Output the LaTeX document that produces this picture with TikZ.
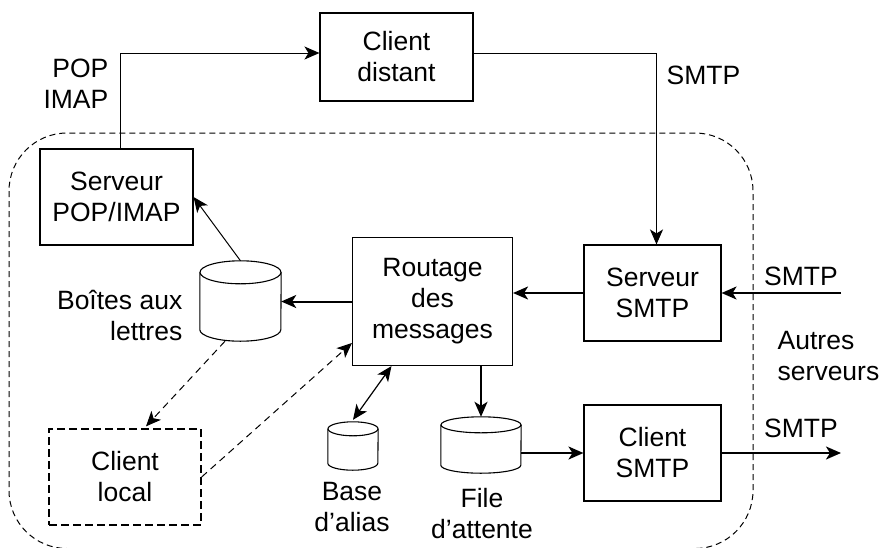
\documentclass[tikz,border=0pt]{standalone}
\usepackage{fontspec}
\setmainfont{Liberation Sans}
\usetikzlibrary{arrows.meta}

% cylinder outline drawn over a plain (invisible) node: #1 node, #2 x radius, #3 y radius
\newcommand\drawcyl[3]{%
  \draw[cylline] ([yshift=-#3pt]#1.north west) -- ([yshift=#3pt]#1.south west)
    arc[start angle=180, end angle=360, x radius=#2pt, y radius=#3pt]
    -- ([yshift=-#3pt]#1.north east);
  \draw[cylline] ([yshift=-#3pt]#1.north) ellipse[x radius=#2pt, y radius=#3pt];
}

\begin{document}
\begin{tikzpicture}[x=1pt, y=-1pt,
  every node/.style={font=\fontsize{26.5}{31}\selectfont, align=center, inner sep=0pt},
  box/.style={draw, line width=1.1pt},
  dbox/.style={draw, line width=1.3pt, dash pattern=on 8pt off 4pt},
  cylline/.style={line width=1.1pt},
  tip/.style={-{Stealth[length=15pt, width=13pt, inset=4pt]}},
  link/.style={tip, line width=1pt},
  flow/.style={tip, line width=2pt},
  hint/.style={tip, line width=1pt, dash pattern=on 7pt off 5pt},
  both/.style={{Stealth[length=15pt, width=13pt, inset=4pt]}-{Stealth[length=15pt, width=13pt, inset=4pt]}, line width=1.2pt},
  zone/.style={line width=1pt, dash pattern=on 6pt off 4pt, rounded corners=58pt}
]
\path[use as bounding box, clip] (0,0) rectangle (884,547);

% local mail system boundary
\draw[zone] (9,133) rectangle (753,548.5);

% boxes
\node[box, minimum width=153pt, minimum height=88pt] (distant) at (396.5,57) {Client\\distant};
\node[box, minimum width=153pt, minimum height=96pt] (pop) at (116.5,197) {Serveur\\POP/IMAP};
\node[box, minimum width=160pt, minimum height=128pt] (routage) at (432.5,301.5) {Routage\\des\\messages};
\node[box, minimum width=137pt, minimum height=96pt] (ssmtp) at (652.5,293) {Serveur\\SMTP};
\node[box, minimum width=137pt, minimum height=96pt] (csmtp) at (652.5,453) {Client\\SMTP};
\node[dbox, minimum width=152pt, minimum height=96pt] (local) at (125,477) {Client\\local};

% storage cylinders
\node[minimum width=81pt, minimum height=80pt] (boites) at (240.5,301) {};
\node[minimum width=50pt, minimum height=48pt] (alias) at (353,446) {};
\node[minimum width=80pt, minimum height=56pt] (file) at (481,445) {};
\drawcyl{boites}{40.5}{11.5}
\drawcyl{alias}{25}{7}
\drawcyl{file}{40}{8}

% labels
\node[anchor=east, align=right] (poplbl) at (108.5,84) {POP\\IMAP};
\node[anchor=west] (smtpa) at (666.5,75) {SMTP};
\node[anchor=east, align=right] (boiteslbl) at (182.5,315) {Boîtes aux\\lettres};
\node (aliaslbl) at (352,507) {Base\\d’alias};
\node (filelbl) at (482,514) {File\\d’attente};
\node (smtpb) at (801,276) {SMTP};
\node[anchor=west, align=left] (autres) at (777.5,356) {Autres\\serveurs};
\node (smtpc) at (801,428) {SMTP};

% outside ends of the SMTP links
\coordinate (inR) at (841,293);
\coordinate (outR) at (841,453);

% connectors
\draw[link] ([xshift=3.5pt]pop.north) |- ([yshift=4pt]distant.west);
\draw[link] ([yshift=4pt]distant.east) -| ([xshift=4pt]ssmtp.north);
\draw[flow] (inR) -- (ssmtp.east);
\draw[flow] (ssmtp.west) -- (ssmtp.west -| routage.east);
\draw[flow] (routage.west) -- (routage.west -| boites.east);
\draw[flow] (routage.south -| file.north) -- (file.north);
\draw[flow] (csmtp.west -| file.east) -- (csmtp.west);
\draw[flow] (csmtp.east) -- (outR);
\draw[link] (boites.north) -- (pop.east);
\draw[hint] ([xshift=-15.5pt]boites.south) -- ([xshift=21pt,yshift=2pt]local.north);
\draw[hint] (local.east) -- ([yshift=-41.5pt]routage.west);
\draw[both] ([yshift=2pt]alias.north) -- ([xshift=-41pt]routage.south);
\end{tikzpicture}
\end{document}
